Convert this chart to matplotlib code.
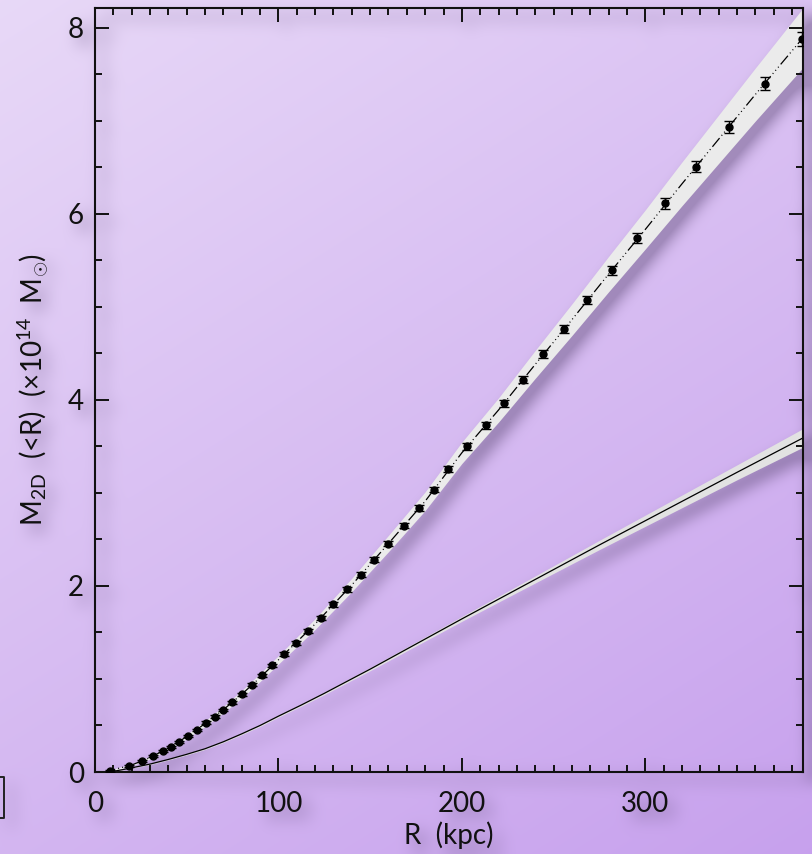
import numpy as np
import matplotlib
matplotlib.use('Agg')
import matplotlib.pyplot as plt
from matplotlib.lines import Line2D
from matplotlib.ticker import MultipleLocator

plt.rcParams['font.family'] = ['Lato', 'DejaVu Sans']
plt.rcParams['mathtext.fontset'] = 'custom'
plt.rcParams['mathtext.rm'] = 'Lato'
plt.rcParams['mathtext.it'] = 'Lato:italic'

# measured points (upper profile) with errors
r_pts = [8.2, 18.5, 25.5, 31.8, 36.9, 41.2, 45.8, 50.5, 55.6, 60.5, 65.5, 69.8,
         74.9, 80.0, 85.8, 91.3, 96.5, 103.1, 109.6, 116.3, 123.1, 130.0, 137.6,
         144.9, 152.3, 160.0, 168.4, 176.6, 184.9, 192.7, 202.9, 213.3, 223.1,
         233.6, 244.5, 255.8, 268.5, 281.8, 295.6, 310.9, 327.7, 345.8, 365.1, 385.5]
m_pts = [0.01, 0.065, 0.115, 0.169, 0.223, 0.269, 0.320, 0.388, 0.452, 0.531,
         0.595, 0.667, 0.750, 0.836, 0.936, 1.041, 1.146, 1.267, 1.385, 1.518,
         1.654, 1.801, 1.962, 2.121, 2.282, 2.454, 2.645, 2.834, 3.035, 3.258,
         3.498, 3.724, 3.964, 4.216, 4.489, 4.765, 5.070, 5.393, 5.737, 6.111,
         6.505, 6.935, 7.395, 7.876]
m_err = [0.008, 0.01, 0.01, 0.01, 0.012, 0.012, 0.012, 0.013, 0.013, 0.014,
         0.014, 0.015, 0.015, 0.016, 0.016, 0.017, 0.018, 0.019, 0.02, 0.021,
         0.022, 0.023, 0.024, 0.025, 0.026, 0.027, 0.028, 0.03, 0.031, 0.032,
         0.034, 0.035, 0.037, 0.039, 0.041, 0.043, 0.046, 0.049, 0.052, 0.056,
         0.06, 0.065, 0.07, 0.075]

# model fit to the points and its uncertainty
r_fit = [5, 10, 20, 30, 40, 50, 60, 70, 80, 90, 100, 120, 140, 160, 180, 200,
         220, 240, 260, 280, 300, 320, 340, 360, 386]
m_fit = [0.0, 0.025, 0.075, 0.155, 0.257, 0.38, 0.52, 0.67, 0.835, 1.015, 1.205,
         1.59, 2.01, 2.455, 2.91, 3.43, 3.89, 4.38, 4.86, 5.35, 5.83, 6.32, 6.80,
         7.28, 7.89]
fit_hw = [0.005, 0.008, 0.01, 0.015, 0.02, 0.025, 0.03, 0.035, 0.04, 0.043,
          0.045, 0.058, 0.072, 0.088, 0.10, 0.115, 0.13, 0.15, 0.17, 0.19, 0.21,
          0.235, 0.26, 0.285, 0.32]

# second (lower) profile
r_low = [8, 15, 20, 30, 40, 50, 60, 70, 80, 90, 100, 112, 125, 137, 150, 175,
         200, 225, 250, 275, 300, 325, 350, 386]
m_low = [0.0, 0.025, 0.045, 0.085, 0.135, 0.19, 0.25, 0.325, 0.41, 0.50, 0.60,
         0.715, 0.845, 0.97, 1.105, 1.375, 1.645, 1.91, 2.175, 2.44, 2.70, 2.96,
         3.22, 3.59]
low_hw = [0.002, 0.003, 0.004, 0.005, 0.006, 0.007, 0.008, 0.008, 0.009, 0.01,
          0.011, 0.012, 0.014, 0.015, 0.017, 0.021, 0.026, 0.033, 0.041, 0.05,
          0.06, 0.07, 0.08, 0.10]

x_ticks = [0, 100, 200, 300]
y_ticks = [0, 2, 4, 6, 8]

W, H = 812, 854
fig = plt.figure(figsize=((W + 0.01) / 100, (H + 0.01) / 100), dpi=100)
fig.patch.set_alpha(0)
ax = fig.add_axes([95 / W, 1 - 772 / H, 708 / W, 764 / H])
ax.patch.set_alpha(0)

r_fit = np.array(r_fit); m_fit = np.array(m_fit); fit_hw = np.array(fit_hw)
r_low = np.array(r_low); m_low = np.array(m_low); low_hw = np.array(low_hw)

ax.fill_between(r_fit, m_fit - fit_hw, m_fit + fit_hw, color='#ebebeb', lw=0, zorder=1)
ax.fill_between(r_low, m_low - low_hw, m_low + low_hw, color='#e2e2e2', lw=0, zorder=1)
ax.plot(r_low, m_low, color='black', lw=0.9, zorder=2)
ax.plot(r_fit, m_fit, color='black', lw=0.9, zorder=2,
        dashes=(9, 2.5, 0.8, 2.5, 0.8, 2.5, 0.8, 2.5))
ax.errorbar(r_pts, m_pts, yerr=m_err, fmt='o', color='black', ms=5,
            elinewidth=1, capsize=3.5, capthick=1, zorder=3)

ax.set_xlim(0, 386)
ax.set_ylim(0, 8.21)
ax.set_xticks(x_ticks)
ax.set_yticks(y_ticks)
ax.xaxis.set_minor_locator(MultipleLocator(10))
ax.yaxis.set_minor_locator(MultipleLocator(0.5))
ax.tick_params(which='both', direction='in', top=True, right=True, width=1.4,
               colors='#111111', labelsize=20)
ax.tick_params(which='major', length=10)
ax.tick_params(which='minor', length=5)
ax.tick_params(axis='x', pad=14)
ax.tick_params(axis='y', pad=8)
for s in ax.spines.values():
    s.set_linewidth(1.5)
    s.set_color('#111111')

ax.set_xlabel('R  (kpc)', fontsize=20, color='#111111', labelpad=3)
ax.set_ylabel(r'M$_{\mathrm{2D}}$  (<R)  (×10$^{\mathrm{14}}$  M$_{\odot}$)',
              fontsize=20, color='#111111', labelpad=12)

# bit of a neighbouring panel frame at the left edge
fig.add_artist(Line2D([0, 3.5 / W, 3.5 / W, 0],
                      [1 - 777 / H, 1 - 777 / H, 1 - 818 / H, 1 - 818 / H],
                      color='#222222', lw=1.4))

# soft drop shadow of everything drawn, on a purple gradient
fig.canvas.draw()
alpha = np.asarray(fig.canvas.buffer_rgba())[..., 3].astype(float) / 255
h, w = alpha.shape


def box_blur(a, r, axis):
    a = np.moveaxis(a, axis, 0)
    p = np.concatenate([np.repeat(a[:1], r + 1, 0), a, np.repeat(a[-1:], r, 0)])
    c = np.cumsum(p, axis=0)
    out = (c[2 * r + 1:] - c[:-2 * r - 1]) / (2 * r + 1)
    return np.moveaxis(out, 0, axis)


sh = np.zeros_like(alpha)
off = 8
sh[off:, off:] = alpha[:-off, :-off]
for _ in range(3):
    sh = box_blur(sh, 7, 0)
    sh = box_blur(sh, 7, 1)
sh = np.clip(sh * 1.5, 0, 1)

yy, xx = np.mgrid[0:h, 0:w]
t = np.clip((0.45 * xx / w + 0.75 * yy / h) / 1.2, 0, 1)[..., None]
c0 = np.array([0.91, 0.85, 0.97])
c1 = np.array([0.78, 0.63, 0.93])
bg = c0 * (1 - t) + c1 * t
k = 0.5 * sh[..., None]
bg = bg * (1 - k) + np.array([0.42, 0.34, 0.52]) * k
fig.figimage(np.clip(bg, 0, 1), xo=0, yo=0, origin='upper', zorder=-10)

fig.savefig('out.png', dpi=100)
